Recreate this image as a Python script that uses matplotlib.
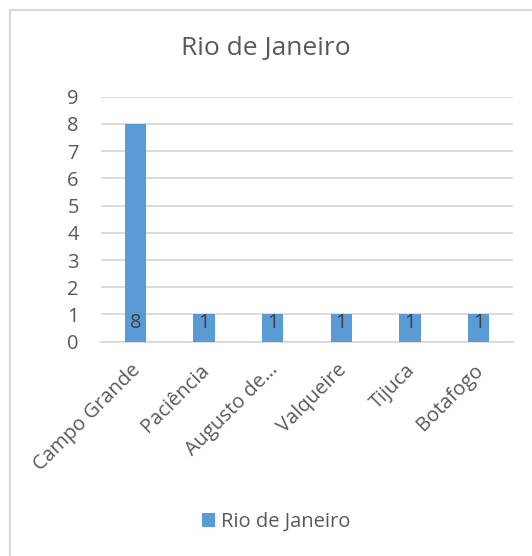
import matplotlib.pyplot as plt
import matplotlib.transforms as mtransforms
from matplotlib.patches import Rectangle

plt.rcParams['font.family'] = ['Open Sans', 'DejaVu Sans']

TITLE = "Rio de Janeiro"
SERIES_NAME = "Rio de Janeiro"
categories = ["Campo Grande", "Paciência", "Augusto de…", "Valqueire", "Tijuca", "Botafogo"]
values = [8, 1, 1, 1, 1, 1]
y_ticks = list(range(0, 10))

BAR_COLOR = '#5B9BD5'
GRID_COLOR = '#D9D9D9'
TEXT_COLOR = '#595959'


def main():
    fig = plt.figure(figsize=(5.32, 5.56), dpi=100)

    # chart area border (only top/left visible in the crop)
    border = Rectangle((10 / 532, -0.1), 1.2, 1 - 10 / 556 + 0.1,
                       transform=fig.transFigure, fill=False,
                       edgecolor=GRID_COLOR, linewidth=1.5)
    fig.patches.append(border)

    ax = fig.add_axes([101 / 532, 1 - 341.7 / 556, 412 / 532, 245 / 556])
    x = list(range(len(categories)))
    bars = ax.bar(x, values, width=0.31, color=BAR_COLOR, label=SERIES_NAME, zorder=3)

    # data labels at inside base
    for rect, v in zip(bars, values):
        ax.annotate(str(v), (rect.get_x() + rect.get_width() / 2, 0),
                    xytext=(0, 6), textcoords='offset points',
                    ha='center', va='bottom', fontsize=14.5, color='#404040', zorder=4)

    ax.set_xlim(-0.5, len(categories) - 0.5)
    ax.set_ylim(0, 9)
    ax.set_yticks(y_ticks)
    ax.set_xticks(x)
    ax.set_xticklabels(categories, rotation=45, ha='right', rotation_mode='anchor')
    ax.tick_params(axis='both', length=0, labelsize=14.5, labelcolor=TEXT_COLOR)
    ax.tick_params(axis='y', pad=16)
    ax.tick_params(axis='x', pad=6)

    # nudge rotated labels a bit left/down like the original
    shift = mtransforms.ScaledTranslation(-5 / 100, -10 / 100, fig.dpi_scale_trans)
    for lbl in ax.get_xticklabels():
        lbl.set_transform(lbl.get_transform() + shift)

    ax.grid(axis='y', color=GRID_COLOR, linewidth=1.3, zorder=0)
    for side in ['top', 'right', 'left']:
        ax.spines[side].set_visible(False)
    ax.spines['bottom'].set_color(GRID_COLOR)
    ax.spines['bottom'].set_linewidth(1.3)

    fig.text(266 / 532, 1 - 48 / 556, TITLE, ha='center', va='center',
             fontsize=19, color=TEXT_COLOR)

    fig.legend(handles=[bars], labels=[SERIES_NAME], loc='center',
               bbox_to_anchor=(276 / 532, 1 - 522 / 556), frameon=False,
               fontsize=14.5, labelcolor=TEXT_COLOR, handlelength=0.65,
               handleheight=0.65, handletextpad=0.3)

    fig.savefig('out.png', dpi=100)


if __name__ == "__main__":
    main()
